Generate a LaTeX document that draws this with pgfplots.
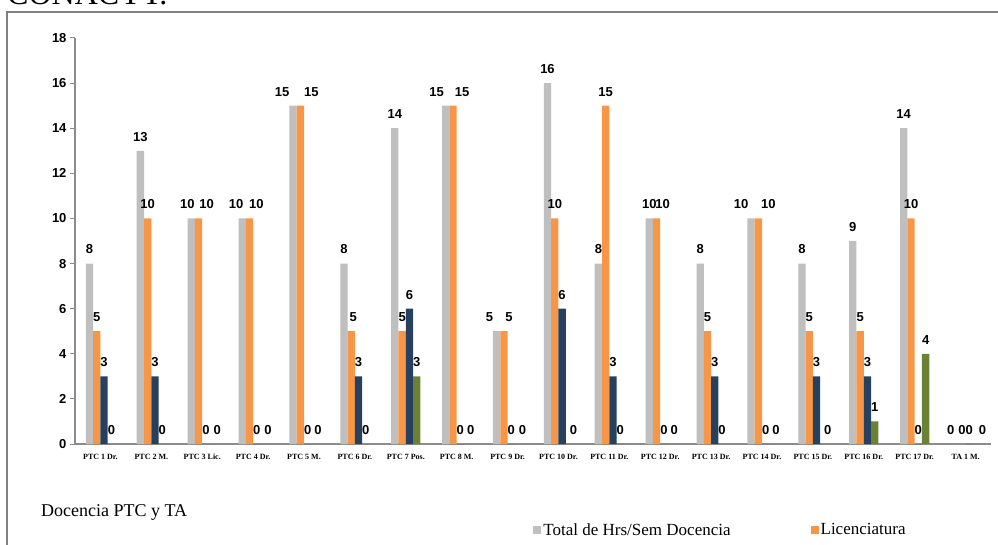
\documentclass[border=0pt]{standalone}
\usepackage{fontspec}
\setmainfont{Liberation Serif}
\setsansfont{Liberation Sans}
\usepackage{pgfplots}
\usepackage{pgfplotstable}
\pgfplotsset{compat=1.18}
\definecolor{cgray}{HTML}{BFBFBF}
\definecolor{corange}{HTML}{F79646}
\definecolor{cnavy}{HTML}{26405F}
\definecolor{cgreen}{HTML}{6B8236}
\definecolor{axgray}{HTML}{8C8C8C}
\definecolor{framegray}{HTML}{808080}

\pgfplotstableread{
x  t  tdx  l  ldx  n  ndx  g  gdx
0  8   0   5   0   3   0   0   0
1  13  0   10  0   3   0   0   0
2  10  -4  10  8   0   0   0   4
3  10  -6  10  7   0   0   0   4
4  15  -11 15  11  0   0   0   3
5  8   0   5   2   3   0   0   0
6  14  0   5   0   6   0   3   0
7  15  -9  15  9   0   0   0   3
8  5   -7  5   5   0   0   0   4
9  16  0   10  0   6   0   0   4
10 8   0   15  0   3   0   0   0
11 10  0   10  6   0   0   0   3
12 8   0   5   0   3   0   0   0
13 10  -10 10  10  0   0   0   3
14 8   0   5   0   3   0   0   4
15 9   0   5   0   3   0   1   0
16 14  0   10  0   0   0   4   0
17 0   -4  0   0   0   0   0   6
}\data

\begin{document}
\begin{tikzpicture}[x=1pt,y=1pt]
\useasboundingbox (0,0) rectangle (998,544);
\draw[color=framegray, line width=1.6pt] (7,-20) -- (7,532) -- (1020,532);
\node[anchor=base west, font=\fontsize{32}{32}\selectfont, inner sep=0pt] at (7,539) {CONACYT.};
\node[anchor=base west, font=\fontsize{18}{18}\selectfont, inner sep=0pt] at (41,28) {Docencia PTC y TA};
\begin{axis}[
  at={(75pt,100pt)}, anchor=south west,
  scale only axis, width=916pt, height=406pt,
  ybar=0pt, bar width=7.3pt,
  xmin=-0.5, xmax=17.5, ymin=0, ymax=18,
  xtick={0,...,17},
  xticklabels={PTC 1 Dr., PTC 2 M., PTC 3 Lic., PTC 4 Dr., PTC 5 M., PTC 6 Dr., PTC 7 Pos., PTC 8 M., PTC 9 Dr., PTC 10 Dr., PTC 11 Dr., PTC 12 Dr., PTC 13 Dr., PTC 14 Dr., PTC 15 Dr., PTC 16 Dr., PTC 17 Dr., TA 1 M.},
  ytick={0,2,...,18},
  axis x line*=bottom, axis y line*=left,
  axis line style={draw=axgray, line width=1.3pt},
  tick align=outside, major tick length=5pt,
  ytick style={draw=axgray, line width=1pt},
  xtick style={draw=none},
  /pgf/number format/assume math mode=true,
  y tick label style={font=\sffamily\bfseries\fontsize{13}{13}\selectfont},
  x tick label style={font=\rmfamily\bfseries\fontsize{8}{8}\selectfont, yshift=-1pt, text height=5.5pt, text depth=1pt},
  nodes near coords,
  nodes near coords style={font=\sffamily\bfseries\fontsize{13}{13}\selectfont, xshift=\dx pt, yshift=6pt},
  clip=false,
  legend style={at={(0.497,-0.212)}, anchor=west, draw=none, fill=none,
    font=\rmfamily\fontsize{17}{17}\selectfont, legend columns=2,
    /tikz/every even column/.append style={column sep=78pt}},
  legend cell align=left,
]
\addplot[fill=cgray, draw=none, visualization depends on={\thisrow{tdx} \as \dx},
  legend image code/.code={\fill[cgray] (0pt,-4pt) rectangle (8pt,4pt);}] table[x=x, y=t] {\data};
\addlegendentry{Total de Hrs/Sem Docencia}
\addplot[fill=corange, draw=none, visualization depends on={\thisrow{ldx} \as \dx},
  legend image code/.code={\fill[corange] (0pt,-4pt) rectangle (8pt,4pt);}] table[x=x, y=l] {\data};
\addlegendentry{Licenciatura}
\addplot[fill=cnavy, draw=none, visualization depends on={\thisrow{ndx} \as \dx}] table[x=x, y=n] {\data};
\addplot[fill=cgreen, draw=none, visualization depends on={\thisrow{gdx} \as \dx}] table[x=x, y=g] {\data};
\end{axis}
\end{tikzpicture}
\end{document}
